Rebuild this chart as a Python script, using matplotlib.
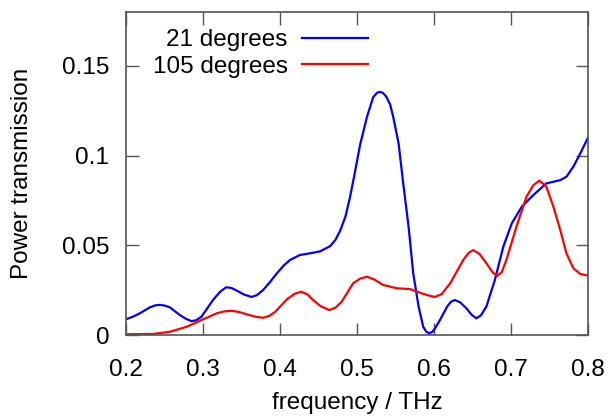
import matplotlib.pyplot as plt

plt.rcParams['font.family'] = ['Liberation Sans', 'DejaVu Sans']

# Values
freq_21 = [0.200, 0.209, 0.218, 0.231, 0.238, 0.244, 0.250, 0.257, 0.270, 0.278,
           0.285, 0.291, 0.298, 0.305, 0.313, 0.322, 0.330, 0.337, 0.344, 0.353,
           0.363, 0.370, 0.378, 0.387, 0.396, 0.405, 0.413, 0.426, 0.440, 0.452,
           0.465, 0.472, 0.478, 0.485, 0.491, 0.497, 0.504, 0.513, 0.521, 0.526,
           0.530, 0.534, 0.538, 0.543, 0.547, 0.554, 0.560, 0.567, 0.573, 0.580,
           0.586, 0.590, 0.594, 0.598, 0.601, 0.608, 0.617, 0.622, 0.627, 0.634,
           0.642, 0.649, 0.655, 0.661, 0.668, 0.679, 0.690, 0.701, 0.714, 0.729,
           0.746, 0.764, 0.772, 0.781, 0.790, 0.800]
trans_21 = [0.0088, 0.0102, 0.0121, 0.0154, 0.0165, 0.0168, 0.0164, 0.0154, 0.0111, 0.0090,
            0.0077, 0.0082, 0.0102, 0.0145, 0.0195, 0.0240, 0.0266, 0.0262, 0.0247, 0.0226,
            0.0212, 0.0222, 0.0250, 0.0295, 0.0344, 0.0388, 0.0418, 0.0446, 0.0456, 0.0466,
            0.0495, 0.0530, 0.0580, 0.0660, 0.0770, 0.0900, 0.1060, 0.1216, 0.1325, 0.1350,
            0.1355, 0.1348, 0.1328, 0.1285, 0.1216, 0.1068, 0.0845, 0.0603, 0.0344, 0.0158,
            0.0046, 0.0018, 0.0010, 0.0018, 0.0035, 0.0085, 0.0158, 0.0185, 0.0195, 0.0182,
            0.0149, 0.0112, 0.0093, 0.0110, 0.0158, 0.0306, 0.0492, 0.0622, 0.0715, 0.0780,
            0.0845, 0.0863, 0.0882, 0.0938, 0.1012, 0.1100]

freq_105 = [0.200, 0.236, 0.257, 0.279, 0.300, 0.318, 0.327, 0.337, 0.347, 0.357,
            0.368, 0.378, 0.386, 0.394, 0.409, 0.419, 0.428, 0.436, 0.443, 0.453,
            0.464, 0.472, 0.480, 0.495, 0.504, 0.513, 0.523, 0.534, 0.552, 0.569,
            0.584, 0.593, 0.601, 0.610, 0.621, 0.638, 0.645, 0.651, 0.659, 0.668,
            0.676, 0.682, 0.688, 0.694, 0.707, 0.720, 0.729, 0.737, 0.746, 0.755,
            0.764, 0.772, 0.781, 0.790, 0.800]
trans_105 = [0.0004, 0.0006, 0.0018, 0.0046, 0.0087, 0.0121, 0.0131, 0.0135, 0.0128, 0.0115,
             0.0102, 0.0096, 0.0106, 0.0130, 0.0199, 0.0230, 0.0241, 0.0225, 0.0195, 0.0160,
             0.0139, 0.0152, 0.0185, 0.0288, 0.0314, 0.0325, 0.0308, 0.0279, 0.0260, 0.0256,
             0.0232, 0.0220, 0.0212, 0.0228, 0.0288, 0.0418, 0.0458, 0.0473, 0.0452, 0.0400,
             0.0350, 0.0329, 0.0350, 0.0418, 0.0603, 0.0770, 0.0835, 0.0860, 0.0826, 0.0715,
             0.0585, 0.0455, 0.0372, 0.0340, 0.0331]

x_ticks = [0.2, 0.3, 0.4, 0.5, 0.6, 0.7, 0.8]
y_ticks = [0, 0.05, 0.1, 0.15]
y_tick_labels = ['0', '0.05', '0.1', '0.15']

fig = plt.figure(figsize=(6.08, 4.16), dpi=100)
ax = fig.add_axes([126 / 608, 1 - 335 / 416, 462 / 608, 323 / 416])

ax.plot(freq_21, trans_21, color='#0000ff', lw=1.6, label='21 degrees')
ax.plot(freq_105, trans_105, color='#ff0000', lw=1.6, label='105 degrees')

ax.set_xlim(0.2, 0.8)
ax.set_ylim(0, 0.18)
ax.set_xticks(x_ticks)
ax.set_xticklabels([str(t) for t in x_ticks])
ax.set_yticks(y_ticks)
ax.set_yticklabels(y_tick_labels)
ax.tick_params(direction='in', length=9, width=1, top=True, right=True,
               labelsize=17.5, color='#555555')
ax.tick_params(axis='x', pad=17)
ax.tick_params(axis='y', pad=12)
for s in ax.spines.values():
    s.set_color('#555555')
    s.set_linewidth(1.2)

ax.set_xlabel('frequency / THz', fontsize=17.5, labelpad=8)
ax.set_ylabel('Power transmission', fontsize=17.5, labelpad=21)

ax.legend(loc='upper right', bbox_to_anchor=(368 / 608, 1 - 29 / 416),
          bbox_transform=fig.transFigure, frameon=False, borderpad=0,
          borderaxespad=0, markerfirst=False, fontsize=17.5, handlelength=2.7,
          handletextpad=0.6, labelspacing=0.2)

fig.savefig('out.png', dpi=100)
